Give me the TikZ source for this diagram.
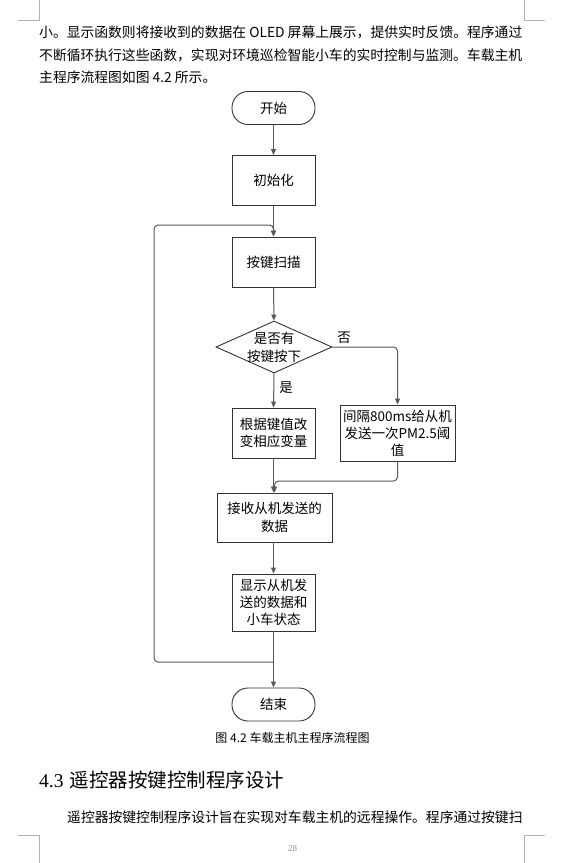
\documentclass[tikz,border=0pt]{standalone}
\usepackage{fontspec}
\setmainfont{Noto Sans CJK SC}
\newfontfamily\serifnum{Liberation Serif}
\usetikzlibrary{shapes.geometric,arrows.meta}
\begin{document}
\begin{tikzpicture}[x=1pt,y=-1pt,
  box/.style={draw=black!80, line width=0.9pt, fill=white, inner sep=0pt, align=center, font=\fontsize{13.5}{17.5}\selectfont},
  term/.style={box, rounded corners=16pt},
  conn/.style={draw=black!65, line width=1pt, rounded corners=4pt, -{Triangle[length=6pt,width=5pt]}},
  cornermark/.style={draw=black!30, line width=0.6pt},
  body/.style={anchor=base west, inner sep=0pt, font=\fontsize{13.8}{16}\selectfont},
  lbl/.style={inner sep=0pt, font=\fontsize{13.5}{16}\selectfont}
]
\useasboundingbox (0,0) rectangle (582,863);

% corner marks
\draw[cornermark] (39,0) -- (39,20) -- (18,20);
\draw[cornermark] (524,0) -- (524,20) -- (545,20);
\draw[cornermark] (39,863) -- (39,835) -- (18,835);
\draw[cornermark] (524,863) -- (524,835) -- (545,835);

% top text
\node[body] (t1) at (39,37.5) {小。显示函数则将接收到的数据在 OLED 屏幕上展示，提供实时反馈。程序通过};
\node[body] (t2) at (39,60) {不断循环执行这些函数，实现对环境巡检智能小车的实时控制与监测。车载主机};
\node[body] (t3) at (39,82.5) {主程序流程图如图 4.2 所示。};

% flowchart nodes
\node[term, minimum width=83pt, minimum height=33pt] (start) at (273.5,108) {开始};
\node[box, minimum width=83pt, minimum height=50pt] (init) at (273.5,180.5) {初始化};
\node[box, minimum width=83pt, minimum height=50pt] (scan) at (273.5,262) {按键扫描};
\node[diamond, draw=black!80, line width=0.9pt, fill=white, inner sep=0pt, minimum width=116pt, minimum height=52pt] (dec) at (274,347) {};
\node[lbl, align=center, font=\fontsize{13.5}{18}\selectfont] (dectext) at (dec) {是否有\\按键按下};
\node[box, minimum width=83pt, minimum height=50pt] (yes) at (273.5,433) {根据键值改\\变相应变量};
\node[box, minimum width=115pt, minimum height=56pt, font=\fontsize{13.5}{17}\selectfont] (no) at (397.5,433) {间隔800ms给从机\\发送一次PM2.5阈\\值};
\node[box, minimum width=115pt, minimum height=49pt] (recv) at (274.5,517.5) {接收从机发送的\\数据};
\node[box, minimum width=83pt, minimum height=57pt, font=\fontsize{13.5}{17}\selectfont] (disp) at (273.5,602.5) {显示从机发\\送的数据和\\小车状态};
\node[term, minimum width=83pt, minimum height=33pt] (end) at (273.5,704.5) {结束};

% coordinates
\coordinate (noc) at (397.5,347);
\coordinate (mrg1) at (397.5,481);
\coordinate (mrg2) at (274.5,481);
\coordinate (lb) at (273.5,662);
\coordinate (loopL) at (154,662);
\coordinate (loopT) at (154,225);
\coordinate (loopR) at (273.5,225);

% connectors
\draw[conn] (start) -- (init);
\draw[conn] (init) -- (scan);
\draw[conn] (scan) -- (dec);
\draw[conn] (dec.east) -- (noc) -- (no.north);
\draw[conn] (dec.south) -- (yes.north);
\draw[conn] (yes.south) -- (recv.north -| yes.south);
\draw[conn] (no.south) -- (mrg1) -- (mrg2) -- (recv.north);
\draw[conn] (recv.south -| disp.north) -- (disp.north);
\draw[conn] (disp.south) -- (end.north);
\draw[conn] (lb) -- (loopL) -- (loopT) -- (loopR) -- (scan.north);

\node[lbl] (nolbl) at (344,338) {否};
\node[lbl] (yeslbl) at (286,388) {是};

% caption
\node[inner sep=0pt, font=\fontsize{12}{14}\selectfont] (cap) at (292.5,738) {图 4.2 车载主机主程序流程图};

% heading and body
\node[anchor=base west, inner sep=0pt] (h) at (39,787.5) {{\serifnum\fontsize{19.5}{24}\selectfont 4.3}\hspace{6pt}{\fontsize{19.5}{24}\selectfont 遥控器按键控制程序设计}};
\node[body] (b1) at (67,822.3) {遥控器按键控制程序设计旨在实现对车载主机的远程操作。程序通过按键扫};

% page number
\node[anchor=base, inner sep=0pt, text=black!45, font=\serifnum\fontsize{9}{10}\selectfont] (pg) at (292.5,851) {28};
\end{tikzpicture}
\end{document}
